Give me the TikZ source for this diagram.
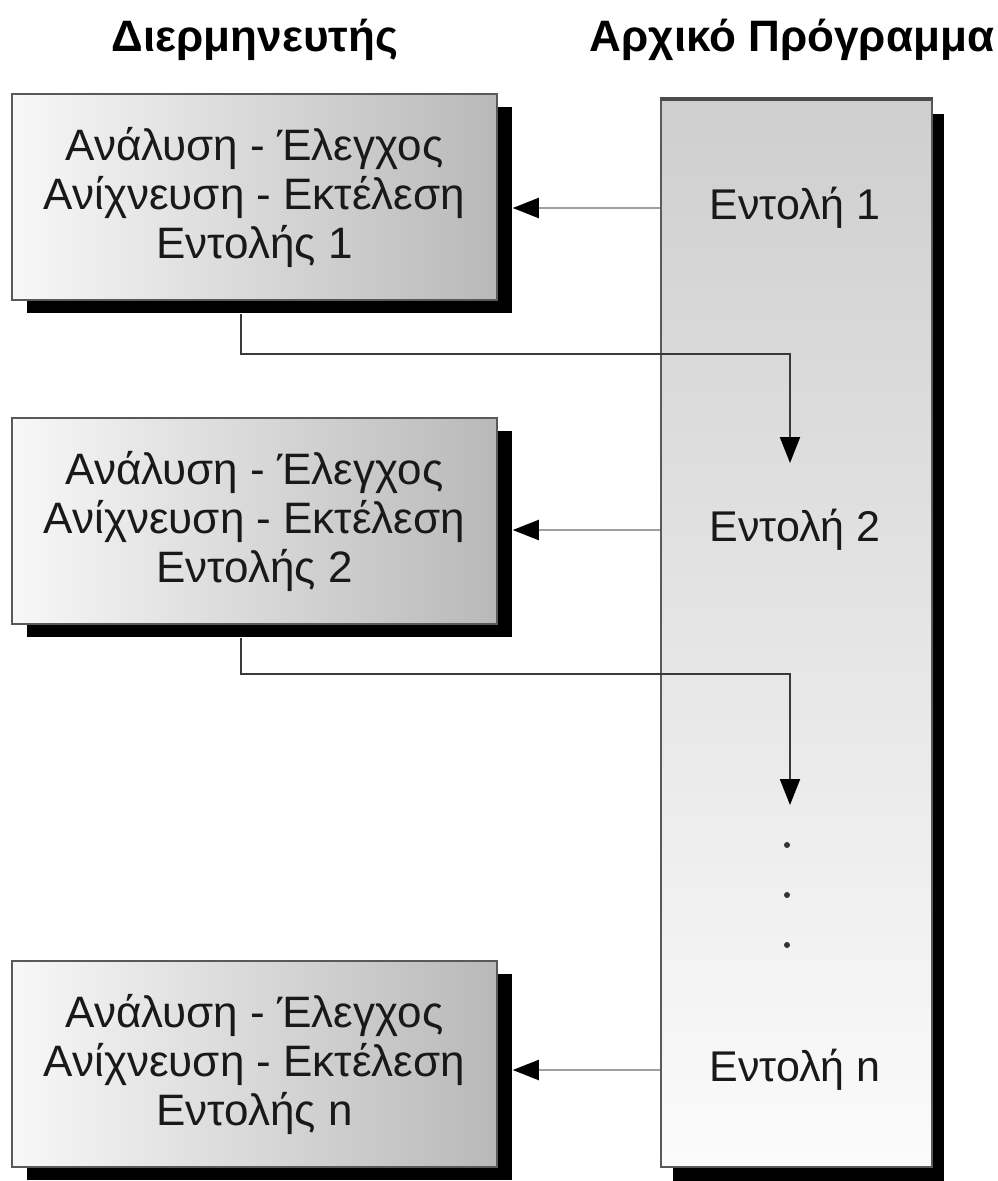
\documentclass[tikz,border=0pt]{standalone}
\usepackage{fontspec}
\setmainfont{Liberation Sans}
\usetikzlibrary{arrows.meta,positioning,shadows}

\tikzset{
  interp/.style={draw=gray!70!black, line width=1.5pt, minimum width=485pt, minimum height=206pt,
    inner sep=0pt, align=center, left color=gray!6, right color=gray!55,
    font=\fontsize{44}{49}\selectfont, text=black!90,
    drop shadow={shadow xshift=15pt, shadow yshift=-13pt, opacity=1, fill=black}},
  source/.style={draw=gray!70!black, line width=1.5pt, minimum width=271pt, minimum height=1067pt,
    inner sep=0pt, top color=gray!38, bottom color=gray!3,
    drop shadow={shadow xshift=12pt, shadow yshift=-14pt, opacity=1, fill=black}},
  cmd/.style={font=\fontsize{43}{49}\selectfont, text=black!90},
  head/.style={font=\fontsize{44}{48}\selectfont\bfseries},
  vdot/.style={circle, fill=black!80, inner sep=0pt, minimum size=6pt},
  feed/.style={draw=gray!75, line width=2pt, -{Triangle[length=26pt,width=20pt,color=black]}},
  hop/.style={draw=gray!45!black, line width=2pt, -{Triangle[length=26pt,width=20pt,color=black]}}
}

\begin{document}
\begin{tikzpicture}[x=1pt,y=-1pt]
  \useasboundingbox (0,0) rectangle (998,1181);

  % Headings
  \node[head] (hInt) at (255,40) {Διερμηνευτής};
  \node[head] (hSrc) at (792,40) {Αρχικό Πρόγραμμα};

  % Source program
  \node[source] (prog) at (796.5,633.5) {};
  \draw[gray!60!black, line width=4pt] (prog.north west) -- (prog.north east);
  \node[cmd] (i1) at (795,208) {Εντολή 1};
  \node[cmd] (i2) at (795,530) {Εντολή 2};
  \node[cmd] (in) at (795,1070) {Εντολή n};
  \node[vdot] (d1) at (787,845) {};
  \node[vdot] (d2) at (787,895) {};
  \node[vdot] (d3) at (787,945) {};

  % Interpreter steps
  \node[interp] (b1) at (254.5,197) {Ανάλυση - Έλεγχος\\Ανίχνευση - Εκτέλεση\\Εντολής 1};
  \node[interp] (b2) at (254.5,521) {Ανάλυση - Έλεγχος\\Ανίχνευση - Εκτέλεση\\Εντολής 2};
  \node[interp] (bn) at (254.5,1064) {Ανάλυση - Έλεγχος\\Ανίχνευση - Εκτέλεση\\Εντολής n};

  % Fetch arrows
  \coordinate (e1) at ([xshift=15pt]b1.east);
  \coordinate (e2) at ([xshift=15pt]b2.east);
  \coordinate (en) at ([xshift=15pt]bn.east);
  \draw[feed] (i1 -| prog.west) -- (i1 -| e1);
  \draw[feed] (i2 -| prog.west) -- (i2 -| e2);
  \draw[feed] (in -| prog.west) -- (in -| en);

  % Go to next instruction
  \coordinate (t2) at (790,463);
  \coordinate (t3) at (790,805);
  \draw[hop] ([xshift=-13.5pt,yshift=-13pt]b1.south) -- ++(0,40) -| (t2);
  \draw[hop] ([xshift=-13.5pt,yshift=-13pt]b2.south) -- ++(0,36) -| (t3);
\end{tikzpicture}
\end{document}
